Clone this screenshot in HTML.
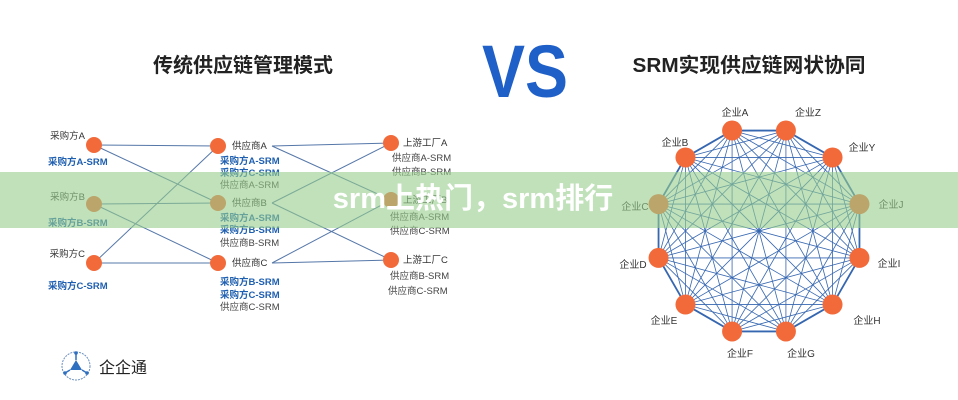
<!DOCTYPE html>
<html><head><meta charset="utf-8"><style>
body{margin:0;width:958px;height:400px;background:#fff;overflow:hidden;font-family:"Liberation Sans","Noto Sans CJK SC",sans-serif;}
svg{position:absolute;left:0;top:0}
.banner{position:absolute;left:0;top:172px;width:958px;height:56px;background:rgba(150,205,140,0.6);}
.bt{position:absolute;left:327px;top:172px;width:292px;height:56px;line-height:54px;text-align:center;color:#fff;font-weight:bold;font-size:29px;white-space:nowrap;font-family:"Liberation Sans","Noto Sans CJK SC",sans-serif;}
</style></head><body>
<svg width="958" height="400" viewBox="0 0 958 400" font-family="Liberation Sans, Noto Sans CJK SC, sans-serif">
<text x="243" y="72" text-anchor="middle" font-size="20" font-weight="bold" fill="#222">传统供应链管理模式</text>
<text x="525" y="97" text-anchor="middle" font-size="74" font-weight="bold" fill="#1f5fc8" textLength="86" lengthAdjust="spacingAndGlyphs">VS</text>
<text x="749" y="72" text-anchor="middle" font-size="20" font-weight="bold" fill="#222" textLength="233" lengthAdjust="spacingAndGlyphs">SRM实现供应链网状协同</text>
<g stroke="#5577a8" stroke-width="1" fill="none">
<line x1="94" y1="145" x2="218" y2="146"/><line x1="94" y1="145" x2="218" y2="203"/>
<line x1="94" y1="204" x2="218" y2="203"/><line x1="94" y1="204" x2="218" y2="263"/>
<line x1="94" y1="263" x2="218" y2="146"/><line x1="94" y1="263" x2="218" y2="263"/>
<line x1="272" y1="146" x2="391" y2="143"/><line x1="272" y1="146" x2="391" y2="200"/>
<line x1="272" y1="203" x2="391" y2="143"/><line x1="272" y1="203" x2="391" y2="260"/>
<line x1="272" y1="263" x2="391" y2="200"/><line x1="272" y1="263" x2="391" y2="260"/>
</g>
<g fill="#f26a3a">
<circle cx="94" cy="145" r="8"/><circle cx="94" cy="204" r="8"/><circle cx="94" cy="263" r="8"/>
<circle cx="218" cy="146" r="8"/><circle cx="218" cy="203" r="8"/><circle cx="218" cy="263" r="8"/>
<circle cx="391" cy="143" r="8"/><circle cx="391" cy="200" r="8"/><circle cx="391" cy="260" r="8"/>
</g>
<g font-size="9.5" fill="#333">
<text x="85" y="139" text-anchor="end">采购方A</text>
<text x="85" y="200" text-anchor="end">采购方B</text>
<text x="85" y="257" text-anchor="end">采购方C</text>
<text x="232" y="149">供应商A</text><text x="232" y="206">供应商B</text><text x="232" y="266">供应商C</text>
<text x="403" y="146">上游工厂A</text><text x="403" y="203">上游工厂B</text><text x="403" y="263">上游工厂C</text>
</g>
<g font-size="9.5" font-weight="bold" fill="#1f5fb0">
<text x="48" y="165">采购方A-SRM</text><text x="48" y="226">采购方B-SRM</text><text x="48" y="289">采购方C-SRM</text>
<text x="220" y="164">采购方A-SRM</text><text x="220" y="176">采购方C-SRM</text>
<text x="220" y="221">采购方A-SRM</text><text x="220" y="233">采购方B-SRM</text>
<text x="220" y="285">采购方B-SRM</text><text x="220" y="298">采购方C-SRM</text>
</g>
<g font-size="9.5" fill="#444">
<text x="220" y="188">供应商A-SRM</text><text x="220" y="246">供应商B-SRM</text><text x="220" y="310">供应商C-SRM</text>
<text x="392" y="161">供应商A-SRM</text><text x="392" y="175">供应商B-SRM</text>
<text x="390" y="220">供应商A-SRM</text><text x="390" y="234">供应商C-SRM</text>
<text x="390" y="279">供应商B-SRM</text><text x="388" y="294">供应商C-SRM</text>
</g>
<g id="net" stroke="#3566b0" stroke-width="0.8" fill="none"></g>
<g id="nodes" fill="#f26a3a"></g>
<g font-size="10" fill="#333" text-anchor="middle">
<text x="735" y="116">企业A</text><text x="808" y="116">企业Z</text><text x="862" y="151">企业Y</text>
<text x="891" y="208">企业J</text><text x="889" y="267">企业I</text><text x="867" y="324">企业H</text>
<text x="801" y="357">企业G</text><text x="740" y="357">企业F</text><text x="664" y="324">企业E</text>
<text x="633" y="268">企业D</text><text x="635" y="210">企业C</text><text x="675" y="146">企业B</text>
</g>
<g transform="translate(76,366)">
<circle r="14" fill="none" stroke="#6a8fc0" stroke-width="1" stroke-dasharray="2 1"/>
<path d="M0,-6 L6,4 L-6,4 Z" fill="#2f6fc0"/>
<path d="M0,-13 L0,-6 M6,4 L11,7 M-6,4 L-11,7" stroke="#2f6fc0" stroke-width="1.5"/>
<circle cx="0" cy="-13" r="1.8" fill="#2f6fc0"/><circle cx="11" cy="7" r="1.8" fill="#2f6fc0"/><circle cx="-11" cy="7" r="1.8" fill="#2f6fc0"/>
</g>
<text x="99" y="373" font-size="16" fill="#222">企企通</text>
</svg>
<div class="banner"></div>
<div class="bt">srm上热门，srm排行</div>
<script>
var cx=759,cy=231,r=104,p=[],ns="http://www.w3.org/2000/svg";
for(var i=0;i<12;i++){var a=(-15+30*i)*Math.PI/180;p.push([cx+r*Math.sin(a),cy-r*Math.cos(a)]);}
var g=document.getElementById('net'),n=document.getElementById('nodes');
for(var i=0;i<12;i++)for(var j=i+1;j<12;j++){var l=document.createElementNS(ns,'line');l.setAttribute('x1',p[i][0]);l.setAttribute('y1',p[i][1]);l.setAttribute('x2',p[j][0]);l.setAttribute('y2',p[j][1]);if(j==i+1||(i==0&&j==11))l.setAttribute('stroke-width','1.8');g.appendChild(l);}
for(var i=0;i<12;i++){var c=document.createElementNS(ns,'circle');c.setAttribute('cx',p[i][0]);c.setAttribute('cy',p[i][1]);c.setAttribute('r',10);n.appendChild(c);}
</script>
</body></html>
